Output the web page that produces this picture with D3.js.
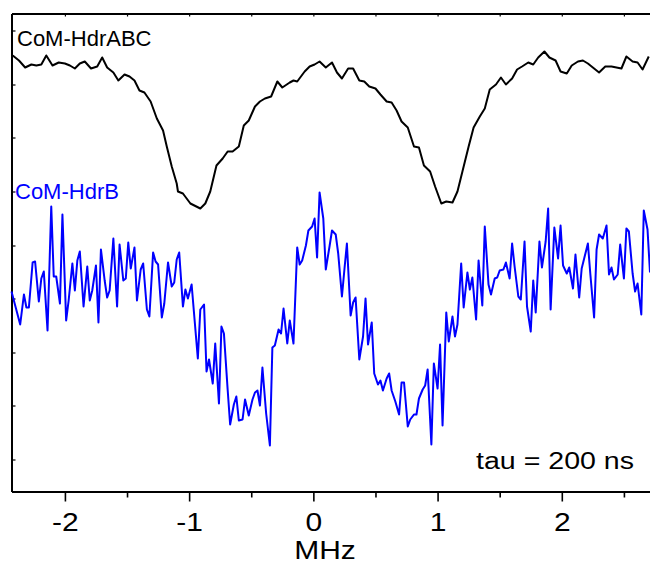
<!DOCTYPE html>
<html>
<head>
<meta charset="utf-8">
<script src="https://cdn.jsdelivr.net/npm/d3@7"></script>
<style>
body { margin: 0; background: #fff; }
text { font-family: "Liberation Sans", Arial, sans-serif; }
</style>
</head>
<body>
<svg width="650" height="564"></svg>
<script>
// ENDOR-like spectra, x in MHz, signal in arbitrary units
var hdrABC_mhz = [-2.42,-2.37,-2.32,-2.27,-2.23,-2.19,-2.15,-2.10,-2.05,-2.00,-1.96,-1.92,-1.88,-1.84,-1.79,-1.74,-1.70,-1.66,-1.61,-1.57,
  -1.52,-1.48,-1.44,-1.40,-1.36,-1.31,-1.26,-1.21,-1.18,-1.14,-1.10,-1.09,-1.05,-0.99,-0.91,-0.87,-0.83,-0.78,-0.73,-0.69,
  -0.65,-0.60,-0.56,-0.52,-0.47,-0.43,-0.39,-0.34,-0.29,-0.25,-0.19,-0.16,-0.13,-0.07,-0.03,0.01,0.05,0.10,0.15,0.19,
  0.23,0.28,0.32,0.37,0.41,0.45,0.50,0.54,0.59,0.63,0.67,0.71,0.76,0.81,0.85,0.89,0.94,0.98,1.03,1.07,
  1.12,1.16,1.20,1.25,1.29,1.34,1.38,1.42,1.47,1.51,1.55,1.60,1.64,1.68,1.73,1.77,1.81,1.86,1.90,1.95,
  1.99,2.04,2.08,2.13,2.17,2.21,2.26,2.30,2.35,2.40,2.44,2.48,2.52,2.57,2.61,2.65,2.70]
var hdrABC_signal = [436,431,424,427,426,427,436,426,429,428,426,423,428,430,423,425,434,424,419,411,
  417,415,411,401,399,390,373,361,345,325,308,300,298,288,283,288,300,326,333,340,
  340,345,366,371,385,390,393,395,410,404,409,411,410,420,425,427,430,424,429,419,
  413,423,423,411,410,405,403,397,390,389,381,370,364,345,344,326,320,305,288,290,
  289,300,320,345,364,375,383,402,407,414,407,413,422,425,429,427,434,440,434,431,
  420,418,426,430,431,428,423,419,425,425,424,423,435,430,429,422,435]

var hdrB_mhz = [-2.43,-2.36,-2.33,-2.31,-2.29,-2.26,-2.24,-2.21,-2.19,-2.17,-2.14,-2.11,-2.09,-2.07,-2.04,-2.02,-1.99,-1.97,-1.94,-1.92,
  -1.90,-1.88,-1.85,-1.82,-1.80,-1.78,-1.75,-1.73,-1.71,-1.68,-1.66,-1.64,-1.61,-1.58,-1.56,-1.53,-1.51,-1.49,-1.47,-1.44,
  -1.42,-1.39,-1.37,-1.34,-1.32,-1.29,-1.27,-1.25,-1.22,-1.20,-1.17,-1.14,-1.12,-1.10,-1.08,-1.05,-1.03,-1.01,-0.98,-0.93,
  -0.91,-0.88,-0.86,-0.84,-0.81,-0.79,-0.76,-0.74,-0.72,-0.69,-0.67,-0.64,-0.62,-0.60,-0.57,-0.55,-0.52,-0.49,-0.47,-0.45,
  -0.43,-0.41,-0.38,-0.35,-0.33,-0.31,-0.28,-0.26,-0.24,-0.21,-0.19,-0.16,-0.13,-0.11,-0.09,-0.06,-0.04,-0.01,0.01,0.03,
  0.05,0.08,0.10,0.13,0.15,0.18,0.20,0.23,0.25,0.27,0.30,0.32,0.34,0.37,0.40,0.42,0.44,0.47,0.49,0.52,
  0.54,0.56,0.59,0.61,0.63,0.66,0.69,0.71,0.73,0.76,0.78,0.81,0.83,0.85,0.88,0.90,0.92,0.95,0.97,1.00,
  1.02,1.04,1.07,1.09,1.12,1.14,1.16,1.19,1.21,1.24,1.26,1.28,1.31,1.33,1.36,1.38,1.41,1.43,1.46,1.48,
  1.50,1.53,1.55,1.58,1.60,1.62,1.65,1.67,1.70,1.72,1.75,1.77,1.79,1.82,1.84,1.87,1.89,1.91,1.94,1.97,
  1.99,2.01,2.04,2.06,2.09,2.11,2.14,2.16,2.18,2.21,2.23,2.26,2.28,2.30,2.33,2.36,2.38,2.40,2.42,2.45,
  2.47,2.50,2.52,2.54,2.57,2.59,2.61,2.64,2.66,2.69,2.71]
var hdrB_signal = [200,167,197,184,184,229,230,190,213,220,161,285,215,215,188,277,171,191,228,201,
  231,240,185,225,191,201,226,169,242,211,194,201,253,185,247,211,213,249,223,244,
  191,222,228,182,175,239,230,227,174,188,229,205,209,232,239,185,202,193,207,133,
  182,187,120,132,108,148,88,165,158,102,67,87,95,71,72,92,76,92,99,101,
  86,124,78,46,144,146,162,158,183,148,171,148,244,227,231,246,261,265,273,234,
  299,273,222,245,261,257,238,195,222,248,176,189,194,132,155,193,147,169,118,107,
  111,101,113,118,101,90,77,109,109,65,72,77,77,93,102,106,122,47,128,103,
  147,66,179,150,175,155,167,228,184,219,202,214,172,231,186,265,207,197,213,214,
  221,222,229,213,248,225,195,192,250,185,160,211,179,250,224,250,283,182,264,233,
  266,226,218,224,203,237,194,223,233,248,217,174,242,257,253,266,217,224,212,217,
  247,213,263,260,218,200,208,177,281,262,219]

var majorTicks = [-2, -1, 0, 1, 2]
var minorTicks = [-1.5, -0.5, 0.5, 1.5, 2.5]
var leftTicks = [32, 86, 139, 193, 246, 300, 354, 407, 461]

var svg = d3.select('svg')
var x = d3.scaleLinear().domain([-2.43, 2.71]).range([11.5, 650])
var y = d3.scaleLinear().domain([0, 478]).range([491.5, 13.5])

// frame + axes
var bottomAxis = svg.append('g').attr('transform', 'translate(0,491.5)')
  .call(d3.axisBottom(x).tickValues(majorTicks).tickSize(10).tickSizeOuter(0)
    .tickFormat(function(d){ return String(d) }))
bottomAxis.select('.domain').attr('stroke-width', 2)
bottomAxis.selectAll('.tick line').attr('stroke-width', 1.6)
bottomAxis.selectAll('.tick text')
  .attr('y', 22).attr('dy', '0.71em')
  .attr('font-size', 25)
  .attr('font-family', '"Liberation Sans", Arial, sans-serif')
  .attr('fill', '#000')
  .attr('transform', 'scale(1.2,1)')

var minorAxis = svg.append('g').attr('transform', 'translate(0,491.5)')
  .call(d3.axisBottom(x).tickValues(minorTicks).tickSize(6).tickFormat(''))
minorAxis.select('.domain').remove()
minorAxis.selectAll('.tick line').attr('stroke-width', 1.6)

var topAxis = svg.append('g').attr('transform', 'translate(0,13.5)')
  .call(d3.axisBottom(x).tickValues(majorTicks.concat(minorTicks)).tickSize(3).tickSizeOuter(0).tickFormat(''))
topAxis.select('.domain').attr('stroke-width', 2)
topAxis.selectAll('.tick line').attr('stroke-width', 1.2)

var leftAxis = svg.append('g').attr('transform', 'translate(11.5,0)')
  .call(d3.axisRight(y).tickValues(leftTicks).tickSize(4).tickSizeOuter(0).tickFormat(''))
leftAxis.select('.domain').attr('stroke-width', 2)
leftAxis.selectAll('.tick line').attr('stroke-width', 1.2)

// traces
var line = d3.line()
  .x(function(d){ return x(d[0]) })
  .y(function(d){ return y(d[1]) })

svg.append('path')
  .datum(d3.zip(hdrABC_mhz, hdrABC_signal))
  .attr('d', line)
  .attr('fill', 'none')
  .attr('stroke', '#000')
  .attr('stroke-width', 2)
  .attr('stroke-linejoin', 'round')

svg.append('path')
  .datum(d3.zip(hdrB_mhz, hdrB_signal))
  .attr('d', line)
  .attr('fill', 'none')
  .attr('stroke', '#0000ff')
  .attr('stroke-width', 2)
  .attr('stroke-linejoin', 'round')

// labels
svg.append('text').text('CoM-HdrABC')
  .attr('x', 17).attr('y', 46)
  .attr('font-size', 22).attr('fill', '#000')

svg.append('text').text('CoM-HdrB')
  .attr('x', 15).attr('y', 199)
  .attr('font-size', 22).attr('fill', '#0000ff')

svg.append('text').text('tau = 200 ns')
  .attr('x', 476).attr('y', 469)
  .attr('font-size', 23).attr('fill', '#000')
  .attr('textLength', 158).attr('lengthAdjust', 'spacingAndGlyphs')

svg.append('text').text('MHz')
  .attr('text-anchor', 'middle')
  .attr('transform', 'translate(325,559) scale(1.2,1)')
  .attr('font-size', 25).attr('fill', '#000')
</script>
</body>
</html>
